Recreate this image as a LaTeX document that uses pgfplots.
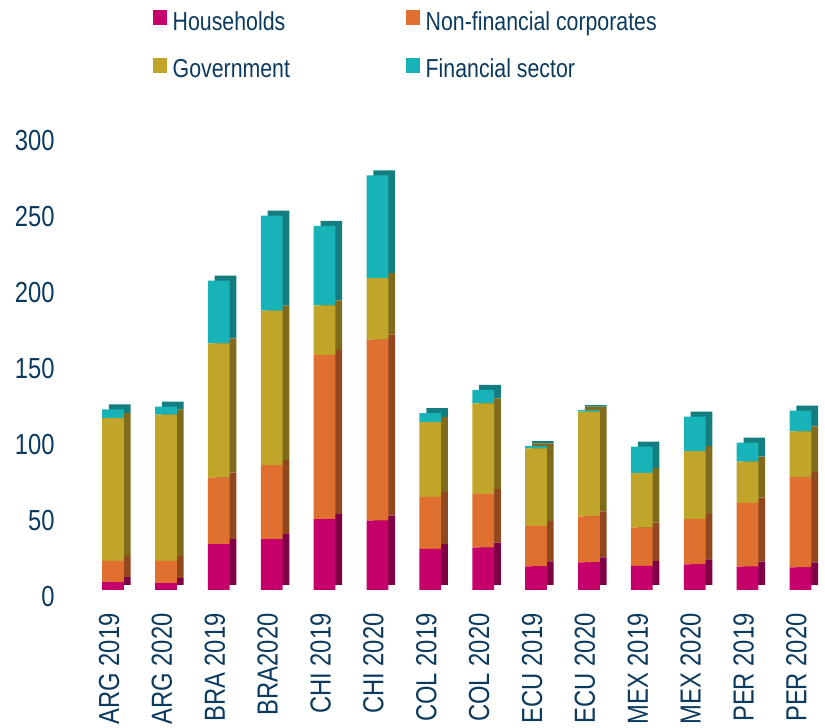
\documentclass[border=0pt]{standalone}
\usepackage{pgfplots}
\pgfplotsset{compat=1.18}
\usepackage{pgfplotstable}
\usepackage{fontspec}
\setmainfont{Liberation Sans}[FakeStretch=0.82]

\definecolor{navy}{RGB}{11,58,94}
\definecolor{hh}{RGB}{197,0,106}
\definecolor{nfc}{RGB}{224,112,48}
\definecolor{gov}{RGB}{192,165,42}
\definecolor{fin}{RGB}{24,179,184}
\definecolor{hhD}{RGB}{128,0,69}
\definecolor{nfcD}{RGB}{146,72,30}
\definecolor{govD}{RGB}{128,107,29}
\definecolor{finD}{RGB}{19,125,128}

% debt by sector, % of GDP
\pgfplotstableread{
x   hh    nfc    gov    fin
0   5.1   14.0   93.9   5.9
1   4.6   14.5   96.2   5.3
2   30.1  43.8   88.4   41.2
3   33.4  48.8   101.6  62.5
4   46.7  107.9  32.7   52.2
5   45.6  119.1  40.4   67.7
6   27.0  34.2   49.3   5.8
7   27.8  35.2   59.8   8.8
8   15.6  26.5   51.1   1.5
9   18.2  30.3   68.8   1.1
10  15.8  25.2   36.0   17.3
11  16.9  29.8   44.7   22.6
12  15.3  42.1   27.0   12.5
13  14.9  59.6   29.9   13.6
}\debt

\pgfplotsset{
  debtaxis/.style={
    scale only axis,
    width=367.5pt, height=228pt,
    xmin=-0.5, xmax=13.4,
    ymin=0, ymax=300,
    ybar stacked,
    bar width=10.85pt,
    anchor=south west,
  },
}

\begin{document}
\begin{tikzpicture}
\useasboundingbox (-43.3pt,-69pt) rectangle (369.2pt,295pt);

% side and top faces (shifted dark copy)
\begin{axis}[debtaxis, at={(3.4pt,2.5pt)}, hide axis]
\addplot[fill=hhD, draw=none] table[x=x, y=hh] {\debt};
\addplot[fill=nfcD, draw=none] table[x=x, y=nfc] {\debt};
\addplot[fill=govD, draw=none] table[x=x, y=gov] {\debt};
\addplot[fill=finD, draw=none] table[x=x, y=fin] {\debt};
\end{axis}

% front faces
\begin{axis}[
    debtaxis, at={(0pt,0pt)},
    axis line style={draw=none},
    major tick style={draw=none},
    ytick={0,50,...,300},
    xtick={0,...,13},
    xticklabels={ARG 2019,ARG 2020,BRA 2019,BRA2020,CHI 2019,CHI 2020,COL 2019,COL 2020,ECU 2019,ECU 2020,MEX 2019,MEX 2020,PER 2019,PER 2020},
    tick label style={font=\fontsize{14.5}{16}\selectfont, text=navy},
    /pgf/number format/assume math mode=true,
    yticklabel style={xshift=-15.8pt, yshift=-3.3pt, anchor=east, inner sep=0pt},
    xticklabel style={xshift=-2pt, yshift=-11.5pt, rotate=90, anchor=east, inner sep=0pt},
    legend columns=2,
    legend image code/.code={\fill[#1] (0pt,-0.4pt) rectangle (7pt,6.9pt);},
    legend cell align=left,
    legend style={
      at={(0.0898,1.272)}, anchor=north west,
      draw=none, fill=none, inner sep=0pt,
      font=\fontsize{13}{14}\selectfont, text=navy,
      nodes={inner sep=0pt, text height=9pt, text depth=3pt},
      row sep=11pt,
      /tikz/every odd column/.append style={column sep=2.85pt},
      /tikz/every even column/.append style={column sep=58pt},
    },
]
\addplot[fill=hh, draw=none] table[x=x, y=hh] {\debt};
\addlegendentry{Households}
\addplot[fill=nfc, draw=none] table[x=x, y=nfc] {\debt};
\addlegendentry{Non-financial corporates}
\addplot[fill=gov, draw=none] table[x=x, y=gov] {\debt};
\addlegendentry{Government}
\addplot[fill=fin, draw=none] table[x=x, y=fin] {\debt};
\addlegendentry{Financial sector}
\end{axis}
\end{tikzpicture}
\end{document}
